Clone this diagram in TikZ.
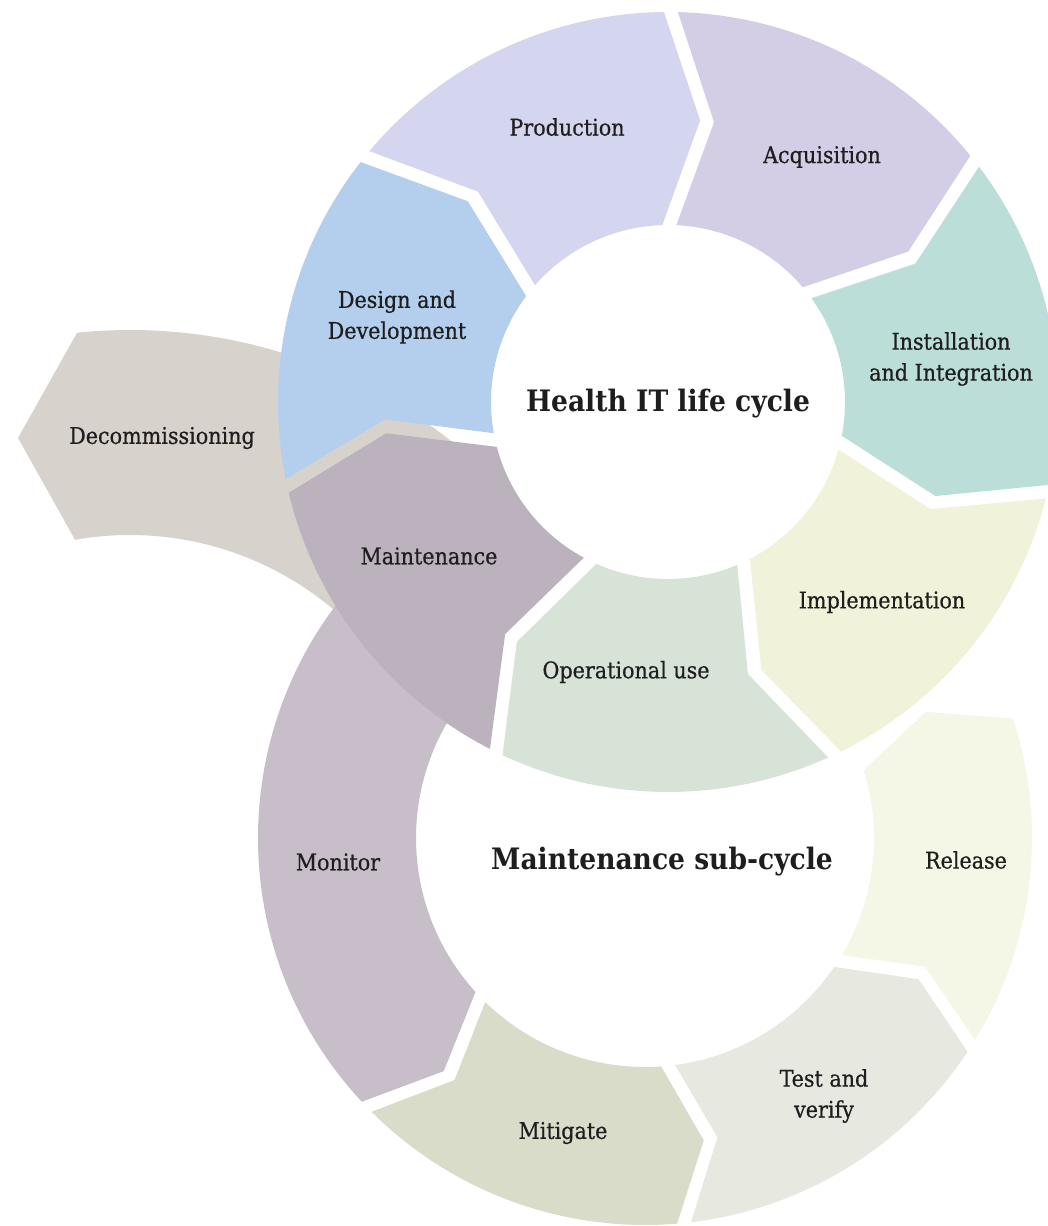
\documentclass[tikz,border=0pt]{standalone}
\usepackage{fontspec}
\setmainfont{DejaVu Serif Condensed}
\newfontfamily\lblfont[FakeBold=0.6]{DejaVu Serif Condensed}
\usepackage{tikz}

\definecolor{designcol}{HTML}{B4CFEE}
\definecolor{productioncol}{HTML}{D4D5EE}
\definecolor{acquisitioncol}{HTML}{D3CDE6}
\definecolor{installcol}{HTML}{BBDED8}
\definecolor{implementcol}{HTML}{F0F3DA}
\definecolor{operationcol}{HTML}{D8E3D8}
\definecolor{maintaincol}{HTML}{BBB2BD}
\definecolor{decomcol}{HTML}{D8D2CD}
\definecolor{monitorcol}{HTML}{C7BEC9}
\definecolor{mitigatecol}{HTML}{D8DCC8}
\definecolor{testcol}{HTML}{E7E8E0}
\definecolor{releasecol}{HTML}{F4F7E5}
\definecolor{inkcol}{HTML}{1E1E1E}

% chevron ring segment: centre, inner r, outer r, from, to, direction (1/-1), tip offset, colour
\newcommand{\chevron}[8]{%
  \pgfmathsetmacro{\rmid}{(#2+#3)/2}
  \pgfmathsetmacro{\ai}{#4+#6*asin(7/#2)}
  \pgfmathsetmacro{\ao}{#4+#6*asin(7/#3)}
  \pgfmathsetmacro{\an}{#4+#6*(#7+asin(7/\rmid))}
  \pgfmathsetmacro{\bi}{#5-#6*asin(7/#2)}
  \pgfmathsetmacro{\bo}{#5-#6*asin(7/#3)}
  \pgfmathsetmacro{\bp}{#5+#6*(#7-asin(7/\rmid))}
  \fill[#8] ([shift={(\ai:#2)}]#1) -- ([shift={(\an:\rmid)}]#1) -- ([shift={(\ao:#3)}]#1)
    arc[start angle=\ao, end angle=\bo, radius=#3]
    -- ([shift={(\bp:\rmid)}]#1) -- ([shift={(\bi:#2)}]#1)
    arc[start angle=\bi, end angle=\ai, radius=#2] -- cycle;
}

\tikzset{
  lbl/.style={text=inkcol, font=\lblfont\fontsize{23}{31}\selectfont, align=center},
  ttl/.style={text=inkcol, font=\bfseries\fontsize{29.5}{34}\selectfont, align=center}
}

\begin{document}
\begin{tikzpicture}[x=1pt,y=1pt]

\useasboundingbox (0,0) rectangle (1048,1226);
\clip (0,0) rectangle (1048,1226);

\coordinate (hc) at (668,824);   % health IT cycle
\coordinate (mc) at (645,388);   % maintenance sub-cycle
\coordinate (dc) at (130,376);   % decommissioning arc
\coordinate (dtip) at (18,788);

% decommissioning branch, behind everything
\fill[decomcol] ([shift={(45:315)}]dc) -- ([shift={(45:520)}]dc)
    arc[start angle=45, end angle=95.85, radius=520] -- (dtip)
    -- ([shift={(100.05:315)}]dc) arc[start angle=100.05, end angle=45, radius=315] -- cycle;

% maintenance sub-cycle
\chevron{mc}{229}{387}{135}{224}{1}{6.5}{monitorcol}
\chevron{mc}{229}{387}{224}{275.8}{1}{6.5}{mitigatecol}
\chevron{mc}{229}{387}{275.8}{327.5}{1}{6.5}{testcol}
\chevron{mc}{229}{387}{327.5}{379}{1}{6.5}{releasecol}

% health IT life cycle
\foreach \a/\b/\col in {192.43/141/designcol, 141/89.57/productioncol,
    89.57/38.14/acquisitioncol, 38.14/-13.29/installcol, -13.29/-64.71/implementcol,
    -64.71/-116.14/operationcol, -116.14/-167.57/maintaincol}
{
    \chevron{hc}{177}{390}{\a}{\b}{-1}{7.5}{\col}
}

\node[ttl] (health) at (668,822) {Health IT life cycle};
\node[ttl] (subcycle) at (662,364) {Maintenance sub-cycle};

\node[lbl] (design) at (397,909) {Design and\\Development};
\node[lbl] (production) at (567,1099) {Production};
\node[lbl] (acquisition) at (822,1069) {Acquisition};
\node[lbl] (installation) at (951,867) {Installation\\and Integration};
\node[lbl] (implementation) at (882,624) {Implementation};
\node[lbl] (operational) at (626,554) {Operational use};
\node[lbl] (maintenance) at (429,670) {Maintenance};
\node[lbl] (decom) at (162,788) {Decommissioning};
\node[lbl] (monitor) at (338,364) {Monitor};
\node[lbl] (mitigate) at (563,93) {Mitigate};
\node[lbl] (testverify) at (824,130) {Test and\\verify};
\node[lbl] (release) at (966,366) {Release};

\end{tikzpicture}
\end{document}
